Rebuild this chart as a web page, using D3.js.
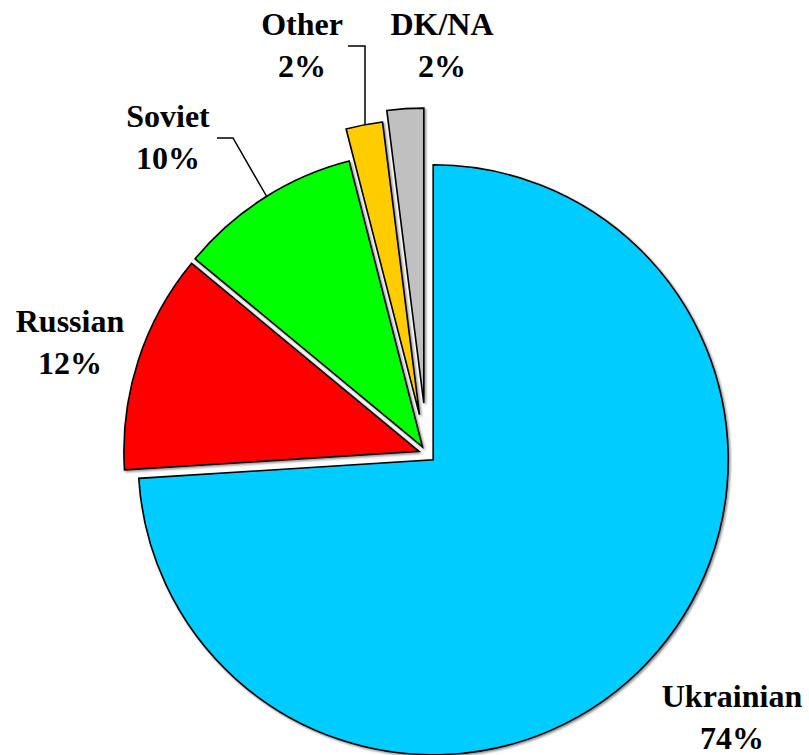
<!DOCTYPE html>
<html>
<head>
<meta charset="utf-8">
<script src="https://cdn.jsdelivr.net/npm/d3@7"></script>
<style>
	body { margin: 0; background: #fff; }
	svg { display: block; }
</style>
</head>
<body>
<script>
// data
var categories = ["Ukrainian", "Russian", "Soviet", "Other", "DK/NA"]
var values = [74, 12, 10, 2, 2]
var pctLabels = ["74%", "12%", "10%", "2%", "2%"]
var colors = ["#00CCFF", "#FF0000", "#00FF00", "#FFCC00", "#C0C0C0"]

// layout
var W = 809, H = 755
var CX = 427, CY = 454, R = 295
var explode = [8.5, 8.5, 8.5, 40, 51]
var labelXY = [[732, 707], [70, 332], [168, 127], [302, 35], [442, 35]]
var LINE_GAP = 42
var leaders = [
	null, null,
	[[217, 138], [233, 138], [267, 197]],
	[[348, 46], [365, 46], [365, 125]],
	null
]

var svg = d3.select("body").append("svg")
	.attr("width", W)
	.attr("height", H)

var defs = svg.append("defs")
defs.append("filter")
	.attr("id", "shadow")
	.attr("x", "-10%").attr("y", "-10%")
	.attr("width", "120%").attr("height", "120%")
	.append("feDropShadow")
		.attr("dx", 1.5)
		.attr("dy", 1.5)
		.attr("stdDeviation", 1)
		.attr("flood-color", "#000")
		.attr("flood-opacity", 0.45)

var pie = d3.pie().sort(null).value(function(d){ return d })
var arcs = pie(values)
var arc = d3.arc().innerRadius(0).outerRadius(R)

var g = svg.append("g").attr("transform", "translate(" + CX + "," + CY + ")")

g.selectAll("path.slice")
	.data(arcs)
	.enter()
	.append("path")
	.attr("class", "slice")
	.attr("transform", function(d, i){
		var a = (d.startAngle + d.endAngle) / 2
		return "translate(" + (Math.sin(a) * explode[i]) + "," + (-Math.cos(a) * explode[i]) + ")"
	})
	.attr("d", arc)
	.attr("fill", function(d, i){ return colors[i] })
	.attr("stroke", "#000")
	.attr("stroke-width", 1.6)
	.attr("stroke-linejoin", "miter")
	.attr("filter", "url(#shadow)")

// leader lines
var line = d3.line()
svg.selectAll("path.leader")
	.data(leaders.filter(function(d){ return d }))
	.enter()
	.append("path")
	.attr("class", "leader")
	.attr("d", line)
	.attr("fill", "none")
	.attr("stroke", "#000")
	.attr("stroke-width", 1.5)

// labels
var lbl = svg.selectAll("text.lbl")
	.data(categories)
	.enter()
	.append("text")
	.attr("class", "lbl")
	.attr("font-family", "Liberation Serif")
	.attr("font-weight", "bold")
	.attr("font-size", 32)
	.attr("fill", "#000")
	.attr("text-anchor", "middle")
	.attr("x", function(d, i){ return labelXY[i][0] })
	.attr("y", function(d, i){ return labelXY[i][1] })

lbl.append("tspan")
	.attr("x", function(d, i){ return labelXY[i][0] })
	.text(function(d){ return d })
lbl.append("tspan")
	.attr("x", function(d, i){ return labelXY[i][0] })
	.attr("dy", LINE_GAP)
	.text(function(d, i){ return pctLabels[i] })
</script>
</body>
</html>
